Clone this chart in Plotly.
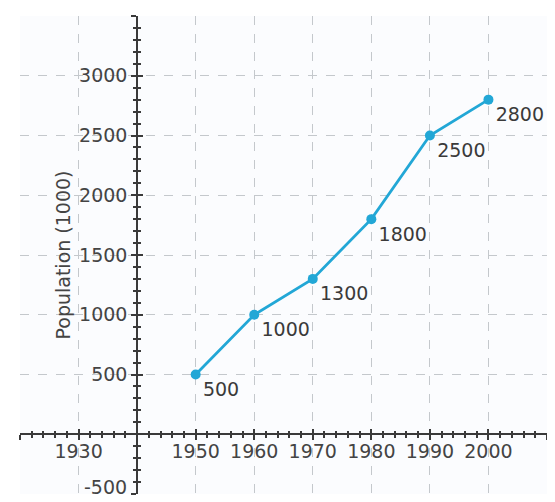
import plotly.graph_objects as go

years = [1950, 1960, 1970, 1980, 1990, 2000]
population = [500, 1000, 1300, 1800, 2500, 2800]
labels = ["500", "1000", "1300", "1800", "2500", "2800"]

x_tick_vals = [1920, 1930, 1940, 1950, 1960, 1970, 1980, 1990, 2000, 2010]
x_tick_text = ["", "1930", "", "1950", "1960", "1970", "1980", "1990", "2000", ""]
y_tick_vals = [-500, 0, 500, 1000, 1500, 2000, 2500, 3000, 3500]
y_tick_text = ["", "", "500", "1000", "1500", "2000", "2500", "3000", ""]
y_bottom_label = "-500"

x_range = [1920, 2010]
y_range = [-500, 3500]
x_cross = 1940
y_cross = 0

xpos = (y_cross - y_range[0]) / (y_range[1] - y_range[0])
ypos = (x_cross - x_range[0]) / (x_range[1] - x_range[0])

line_color = "#22a7d6"
axis_color = "#3a3a3a"
grid_color = "#c4c8cc"
font = dict(family="DejaVu Sans", size=19, color="#444444")

fig = go.Figure()
fig.add_trace(go.Scatter(
    x=years, y=population, mode="lines+markers+text",
    line=dict(color=line_color, width=2.8),
    marker=dict(color=line_color, size=10),
    text=labels, textposition="bottom right",
    textfont=dict(family="DejaVu Sans", size=19, color="#3a3a3a"),
    cliponaxis=False, showlegend=False,
))
fig.add_trace(go.Scatter(
    x=years, y=population, mode="lines", line=dict(width=0),
    xaxis="x2", yaxis="y2", hoverinfo="skip", showlegend=False,
))

common_x = dict(range=x_range, tickmode="array", tickvals=x_tick_vals,
                showline=True, linecolor=axis_color, linewidth=1.5,
                zeroline=False, anchor="free", position=xpos, fixedrange=True,
                automargin=False)
common_y = dict(range=y_range, tickmode="array", tickvals=y_tick_vals,
                showline=True, linecolor=axis_color, linewidth=1.8,
                zeroline=False, anchor="free", position=ypos, fixedrange=True,
                automargin=False)

fig.update_layout(
    width=547, height=494,
    margin=dict(l=12, r=8, t=8, b=8),
    paper_bgcolor="#ffffff",
    plot_bgcolor="#fbfcfe",
    font=font,
    xaxis=dict(**common_x, ticktext=x_tick_text, ticks="outside", ticklen=5,
               tickwidth=1.5, tickcolor=axis_color, tickfont=font, ticklabelstandoff=-5,
               showgrid=True, gridcolor=grid_color, griddash="dash", gridwidth=1,
               minor=dict(tickmode="linear", tick0=1920, dtick=2, ticks="outside",
                          ticklen=3, tickwidth=1.5, tickcolor=axis_color, showgrid=False)),
    yaxis=dict(**common_y, ticktext=y_tick_text, ticks="outside", ticklen=5,
               tickwidth=1.5, tickcolor=axis_color, tickfont=font,
               showgrid=True, gridcolor=grid_color, griddash="dash", gridwidth=1,
               title=dict(text="Population (1000)", font=font, standoff=2),
               minor=dict(tickmode="linear", tick0=-500, dtick=100, ticks="outside",
                          ticklen=3, tickwidth=1.5, tickcolor=axis_color, showgrid=False)),
    xaxis2=dict(**common_x, overlaying="x", matches="x", ticks="inside", ticklen=5,
                tickwidth=1.5, tickcolor=axis_color, showticklabels=False, showgrid=False,
                minor=dict(tickmode="linear", tick0=1920, dtick=2, ticks="inside",
                           ticklen=3, tickwidth=1.5, tickcolor=axis_color, showgrid=False)),
    yaxis2=dict(**common_y, overlaying="y", matches="y", ticks="inside", ticklen=5,
                tickwidth=1.5, tickcolor=axis_color, showticklabels=False, showgrid=False,
                minor=dict(tickmode="linear", tick0=-500, dtick=100, ticks="inside",
                           ticklen=3, tickwidth=1.5, tickcolor=axis_color, showgrid=False)),
    annotations=[dict(text=y_bottom_label, x=ypos, xref="paper", y=y_range[0], yref="y",
                      xanchor="right", yanchor="middle", xshift=-8, yshift=7,
                      showarrow=False, font=font)],
)

fig.write_html("out.html")
